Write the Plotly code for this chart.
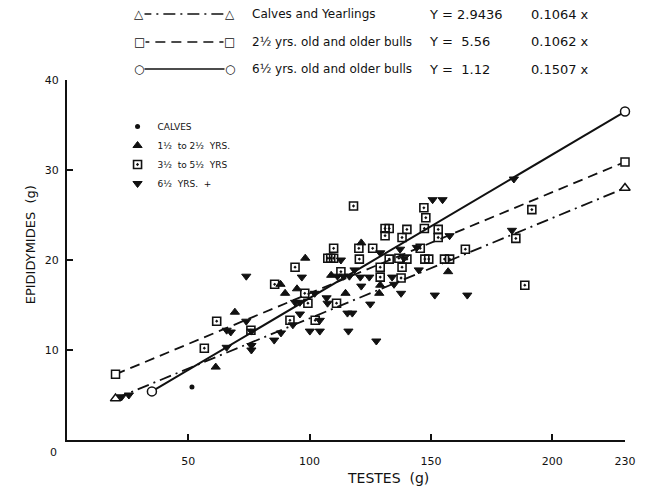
import plotly.graph_objects as go

# ---------------- data ----------------
calves_x = [51.5]
calves_y = [5.9]

yr1_x = [61.3, 69.2, 88.0, 89.9, 94.8, 98.2, 108.9, 114.8, 121.3, 128.7, 129.1, 157.1]
yr1_y = [8.1, 14.2, 17.3, 16.3, 16.8, 20.2, 18.3, 16.3, 21.9, 16.3, 17.2, 18.7]

yr3_x = [56.6, 61.7, 75.8, 85.6, 91.9, 94.0, 98.0, 99.3, 102.3, 107.5,
         108.7, 109.9, 109.9, 111.1, 112.9, 118.1, 120.3, 120.5, 126.0, 129.1,
         129.1, 131.1, 131.1, 132.8, 132.8, 136.8, 137.7, 138.1, 138.1, 140.1,
         140.1, 145.6, 147.1, 147.3, 147.5, 147.9, 149.1, 153.0, 153.0, 155.6,
         157.7, 164.2, 185.0, 188.7, 191.6]
yr3_y = [10.2, 13.2, 12.2, 17.3, 13.3, 19.2, 16.3, 15.2, 13.3, 20.2,
         20.2, 20.2, 21.3, 15.2, 18.7, 26.0, 21.3, 20.1, 21.3, 19.2,
         18.1, 23.5, 22.7, 23.5, 20.1, 20.2, 18.0, 22.5, 19.2, 23.4,
         20.1, 21.3, 25.8, 23.5, 20.1, 24.7, 20.1, 23.4, 22.5, 20.1,
         20.1, 21.2, 22.4, 17.2, 25.6]

yr6_x = [22.5, 25.5, 65.8, 65.8, 67.5, 73.9, 73.9, 76.0, 76.0, 76.0,
         85.4, 88.2, 93.1, 94.0, 96.0, 96.0, 96.8, 100.1, 102.1, 104.2,
         104.2, 107.0, 107.4, 111.5, 112.9, 114.0, 115.6, 116.0, 116.4, 117.6,
         118.5, 120.9, 121.3, 124.6, 125.0, 127.5, 129.1, 134.0, 134.8, 137.3,
         137.7, 138.9, 144.2, 145.0, 150.7, 151.6, 154.8, 157.7, 165.0, 183.4,
         184.2]
yr6_y = [4.8, 5.0, 12.2, 10.3, 12.0, 18.2, 13.2, 12.1, 10.5, 10.0,
         11.1, 11.9, 12.8, 15.3, 15.3, 14.0, 18.1, 12.1, 16.3, 13.3,
         12.1, 15.8, 15.2, 18.2, 20.0, 18.2, 14.1, 12.1, 18.2, 14.1,
         18.9, 18.1, 17.1, 18.1, 15.1, 11.0, 20.8, 18.1, 17.3, 21.2,
         16.3, 20.2, 21.4, 18.9, 26.7, 16.1, 26.7, 22.7, 16.1, 23.3,
         29.0]

# regression line end points
line_calves_x = [20, 230]
line_calves_y = [4.6, 28.0]
line_older_x = [20, 230]
line_older_y = [7.3, 30.9]
line_old6_x = [35, 230]
line_old6_y = [5.4, 36.5]

x_ticks = [50, 100, 150, 200, 230]
y_ticks = [10, 20, 30, 40]

legend_rows = [
    ("Calves and Yearlings", "Y = 2.9436", "0.1064 x"),
    ("2½ yrs. old and older bulls", "Y =  5.56", "0.1062 x"),
    ("6½ yrs. old and older bulls", "Y =  1.12", "0.1507 x"),
]

FONT = "DejaVu Sans"
INK = "#111111"
DASHDOT = "12px,5px,2px,5px"
DASH = "10px,6px"

fig = go.Figure()

# regression lines
fig.add_trace(go.Scatter(x=line_calves_x, y=line_calves_y, mode="lines+markers",
                         line=dict(color=INK, width=1.8, dash=DASHDOT),
                         marker=dict(symbol="triangle-up", size=9, color="white",
                                     line=dict(color=INK, width=1.5)),
                         showlegend=False, cliponaxis=False))
fig.add_trace(go.Scatter(x=line_older_x, y=line_older_y, mode="lines+markers",
                         line=dict(color=INK, width=1.8, dash=DASH),
                         marker=dict(symbol="square", size=8, color="white",
                                     line=dict(color=INK, width=1.5)),
                         showlegend=False, cliponaxis=False))
fig.add_trace(go.Scatter(x=line_old6_x, y=line_old6_y, mode="lines+markers",
                         line=dict(color=INK, width=2),
                         marker=dict(symbol="circle", size=9, color="white",
                                     line=dict(color=INK, width=1.5)),
                         showlegend=False, cliponaxis=False))

# data points
fig.add_trace(go.Scatter(x=calves_x, y=calves_y, mode="markers", name="CALVES",
                         marker=dict(symbol="circle", size=5, color=INK)))
fig.add_trace(go.Scatter(x=yr1_x, y=yr1_y, mode="markers", name="1½  to 2½  YRS.",
                         marker=dict(symbol="triangle-up", size=8, color=INK,
                                     line=dict(color=INK, width=1))))
fig.add_trace(go.Scatter(x=yr3_x, y=yr3_y, mode="markers", name="3½  to 5½  YRS",
                         marker=dict(symbol="square-open-dot", size=8, color=INK,
                                     line=dict(color=INK, width=1.6))))
fig.add_trace(go.Scatter(x=yr6_x, y=yr6_y, mode="markers", name="6½  YRS.  +",
                         marker=dict(symbol="triangle-down", size=8, color=INK,
                                     line=dict(color=INK, width=1))))

# top legend (line samples with end glyphs)
row_y_px = [14, 42, 69]
plot_top, plot_bot, plot_l, plot_r = 80, 440, 67, 630
def py(px):
    return (plot_bot - px) / (plot_bot - plot_top)
def px_(p):
    return (p - plot_l) / (plot_r - plot_l)

dashes = [DASHDOT, DASH, "solid"]
glyphs = ["△", "□", "○"]
shapes = []
annotations = []
def note(xp, yp, text, size, xanchor="center", **kw):
    annotations.append(dict(x=px_(xp), y=py(yp), xref="paper", yref="paper",
                            text=text, showarrow=False, xanchor=xanchor,
                            yanchor="middle",
                            font=dict(family=FONT, size=size, color=INK), **kw))

for i, (lab, eq, coef) in enumerate(legend_rows):
    yy = py(row_y_px[i])
    shapes.append(dict(type="line", xref="paper", yref="paper",
                       x0=px_(140), x1=px_(231), y0=yy, y1=yy,
                       line=dict(color=INK, width=1.6, dash=dashes[i])))
    for gx in (140, 231):
        note(gx, row_y_px[i], glyphs[i], 12, bgcolor="white", borderpad=0)
    note(252, row_y_px[i], lab, 12, xanchor="left")
    note(430, row_y_px[i], eq, 13, xanchor="left")
    note(533, row_y_px[i], coef, 13, xanchor="left")

# axis titles and origin label
note(391, 478, "TESTES  (g)", 14)
note(30, 245, "EPIDIDYMIDES  (g)", 13, textangle=-90)
note(53, 452, "0", 11)

fig.update_layout(
    width=648, height=489,
    margin=dict(l=plot_l, r=648 - plot_r, t=plot_top, b=489 - plot_bot),
    paper_bgcolor="white", plot_bgcolor="white",
    font=dict(family=FONT, color=INK),
    shapes=shapes, annotations=annotations,
    legend=dict(x=px_(118), y=py(112), xanchor="left", yanchor="top",
                bgcolor="rgba(0,0,0,0)", font=dict(family=FONT, size=9, color=INK),
                itemwidth=30, tracegroupgap=0),
    xaxis=dict(range=[0, 230], tickvals=x_ticks, ticktext=[str(v) for v in x_ticks],
               showgrid=False, zeroline=False, showline=True, linecolor=INK,
               linewidth=2, ticks="inside", ticklen=6, tickwidth=1.5, tickcolor=INK,
               tickfont=dict(family=FONT, size=11, color=INK), ticklabelstandoff=10),
    yaxis=dict(range=[0, 40], tickvals=y_ticks, ticktext=[str(v) for v in y_ticks],
               showgrid=False, zeroline=False, showline=True, linecolor=INK,
               linewidth=2, ticks="inside", ticklen=6, tickwidth=1.5, tickcolor=INK,
               tickfont=dict(family=FONT, size=11, color=INK), ticklabelstandoff=4),
)

fig.write_html("out.html")
